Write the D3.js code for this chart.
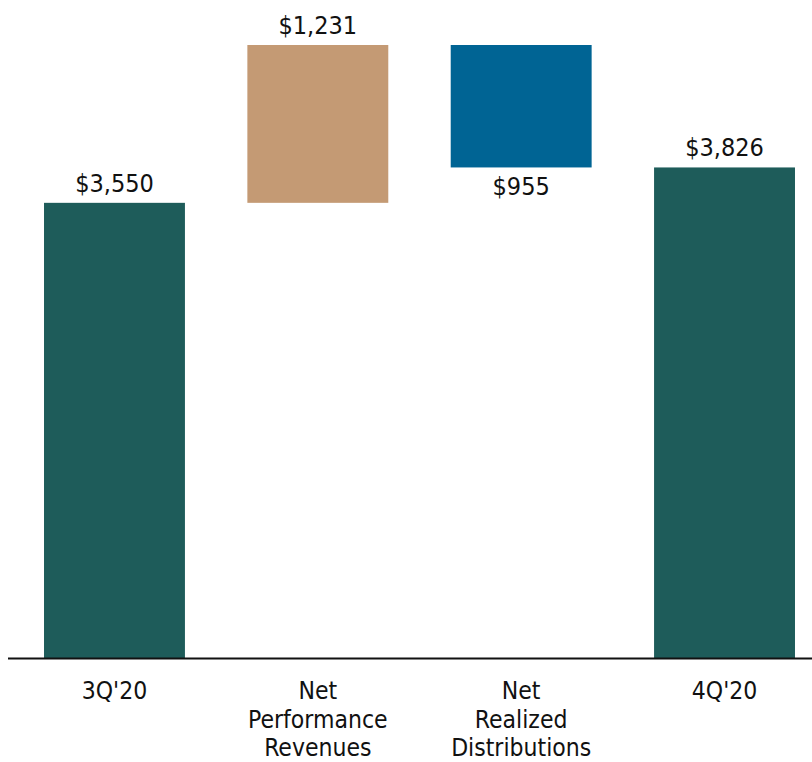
<!DOCTYPE html>
<html>
<head>
<meta charset="utf-8">
<script src="https://cdn.jsdelivr.net/npm/d3@7"></script>
<style>
  html, body { margin: 0; padding: 0; background: #fff; }
  svg { display: block; }
</style>
</head>
<body>
<div id="chart"></div>
<script>
  var categories = ['3Q\'20', 'Net Performance Revenues', 'Net Realized Distributions', '4Q\'20'];
  var labelLines = [['3Q\'20'], ['Net', 'Performance', 'Revenues'], ['Net', 'Realized', 'Distributions'], ['4Q\'20']];
  var values = [3550, 1231, -955, 3826];
  var kinds = ['total', 'delta', 'delta', 'total'];
  var valueLabels = ['$3,550', '$1,231', '$955', '$3,826'];

  var colors = { total: '#1e5c5a', up: '#c49a74', down: '#006494' };

  var width = 812, height = 762;
  var baseY = 658, topY = 45;

  // build waterfall segments
  var running = 0;
  var bars = categories.map(function (c, i) {
    var start, end;
    if (kinds[i] === 'total') { start = 0; end = values[i]; running = values[i]; }
    else { start = running; end = running + values[i]; running = end; }
    return {
      cat: c, lines: labelLines[i], start: start, end: end, label: valueLabels[i],
      color: kinds[i] === 'total' ? colors.total : (values[i] >= 0 ? colors.up : colors.down),
      down: values[i] < 0
    };
  });

  var maxVal = d3.max(bars, function (d) { return Math.max(d.start, d.end); });

  var x = d3.scaleBand()
    .domain(categories)
    .range([12.8, 826.2])
    .paddingInner(0.307)
    .paddingOuter(0.1535);

  var y = d3.scaleLinear()
    .domain([0, maxVal])
    .range([baseY, topY]);

  var svg = d3.select('#chart').append('svg')
    .attr('width', width)
    .attr('height', height);

  var font = '"DejaVu Sans Condensed", "DejaVu Sans", sans-serif';

  svg.append('g')
    .selectAll('rect')
    .data(bars)
    .enter().append('rect')
    .attr('x', function (d) { return x(d.cat); })
    .attr('width', x.bandwidth())
    .attr('y', function (d) { return y(Math.max(d.start, d.end)); })
    .attr('height', function (d) { return Math.abs(y(d.start) - y(d.end)); })
    .attr('fill', function (d) { return d.color; });

  svg.append('g')
    .selectAll('text')
    .data(bars)
    .enter().append('text')
    .attr('x', function (d) { return x(d.cat) + x.bandwidth() / 2; })
    .attr('y', function (d) {
      return d.down ? y(Math.min(d.start, d.end)) + 28 : y(Math.max(d.start, d.end)) - 11;
    })
    .attr('text-anchor', 'middle')
    .attr('font-family', font)
    .attr('font-size', '25px')
    .attr('fill', '#111')
    .text(function (d) { return d.label; });

  // axis line
  svg.append('line')
    .attr('x1', 8).attr('x2', width)
    .attr('y1', baseY + 0.5).attr('y2', baseY + 0.5)
    .attr('stroke', '#111')
    .attr('stroke-width', 2);

  // category labels
  var cat = svg.append('g')
    .selectAll('text')
    .data(bars)
    .enter().append('text')
    .attr('text-anchor', 'middle')
    .attr('font-family', font)
    .attr('font-size', '24.5px')
    .attr('fill', '#111');

  cat.selectAll('tspan')
    .data(function (d) { return d.lines.map(function (l) { return { t: l, cx: x(d.cat) + x.bandwidth() / 2 }; }); })
    .enter().append('tspan')
    .attr('x', function (d) { return d.cx; })
    .attr('y', function (d, i) { return 699 + i * 28.5; })
    .text(function (d) { return d.t; });
</script>
</body>
</html>
